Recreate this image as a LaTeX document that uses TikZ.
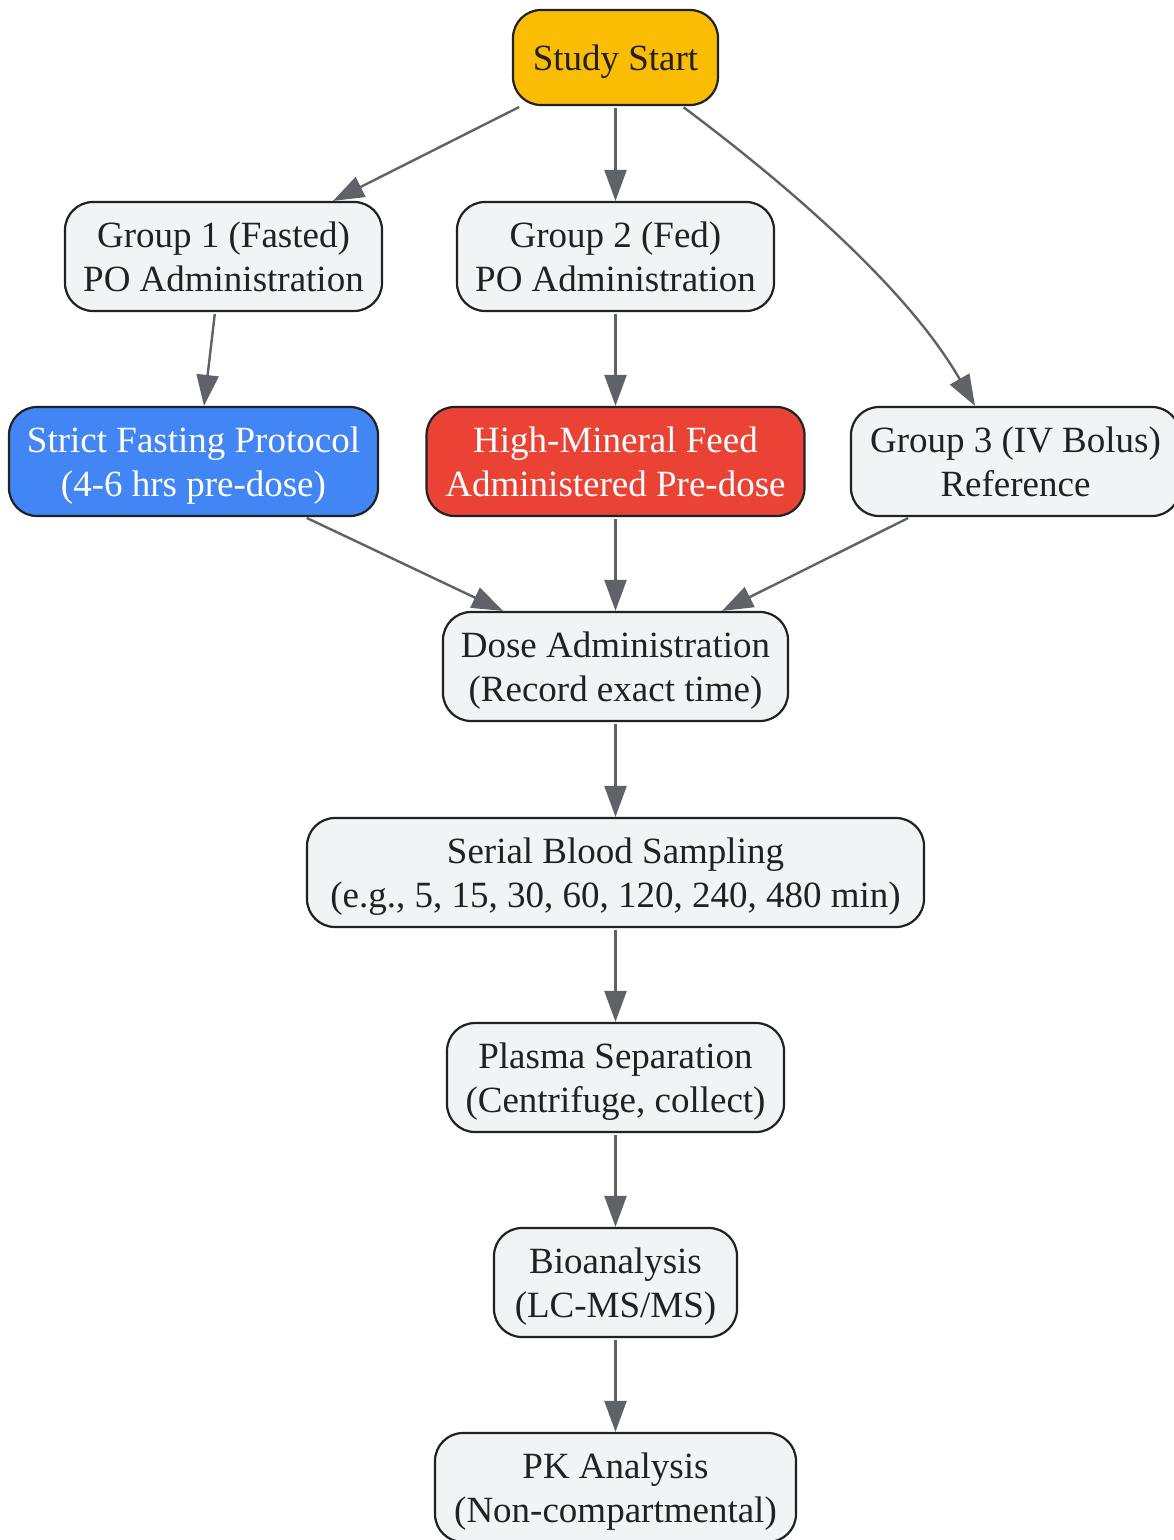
\documentclass[tikz,border=0pt]{standalone}
\usepackage{fontspec}
\setmainfont{Liberation Serif}
\usetikzlibrary{arrows.meta}
\definecolor{cyellow}{HTML}{FBBC04}
\definecolor{cblue}{HTML}{4285F4}
\definecolor{cred}{HTML}{EA4335}
\definecolor{cgray}{HTML}{F1F3F4}
\definecolor{cborder}{HTML}{202124}
\definecolor{cedge}{HTML}{5F6368}
\begin{document}
\begin{tikzpicture}[x=1pt,y=1pt,
  box/.style={draw=cborder, line width=2.2pt, rounded corners=28pt, fill=cgray,
    text=cborder, align=center, inner sep=0pt, minimum height=109pt, text depth=0pt,
    font=\fontsize{37}{44}\selectfont},
  conn/.style={draw=cedge, line width=2.4pt, shorten <=2pt,
    -{Triangle[length=31pt,width=22pt]}}]
\useasboundingbox (0,0) rectangle (1174,-1540);
\node[box, fill=cyellow, minimum width=205pt, minimum height=95pt] (start) at (615.5,-57.5) {Study Start};
\node[box, minimum width=317pt] (g1) at (223.5,-256.5) {Group 1 (Fasted)\\PO Administration};
\node[box, minimum width=317pt] (g2) at (615.5,-256.5) {Group 2 (Fed)\\PO Administration};
\node[box, fill=cblue, text=white, minimum width=369pt] (strict) at (193.5,-461.5) {Strict Fasting Protocol\\(4-6 hrs pre-dose)};
\node[box, fill=cred, text=white, minimum width=378pt] (high) at (615.5,-461.5) {High-Mineral Feed\\Administered Pre-dose};
\node[box, minimum width=329pt] (g3) at (1015.5,-461.5) {Group 3 (IV Bolus)\\Reference};
\node[box, minimum width=345pt] (dose) at (615.5,-666.5) {Dose Administration\\(Record exact time)};
\node[box, minimum width=617pt] (serial) at (615.5,-872.5) {Serial Blood Sampling\\(e.g., 5, 15, 30, 60, 120, 240, 480 min)};
\node[box, minimum width=337pt] (plasma) at (615.5,-1077.5) {Plasma Separation\\(Centrifuge, collect)};
\node[box, minimum width=243pt] (bio) at (615.5,-1282.5) {Bioanalysis\\(LC-MS/MS)};
\node[box, minimum width=361pt] (pk) at (615.5,-1487.5) {PK Analysis\\(Non-compartmental)};

\draw[conn] ([xshift=-94.5pt]start.south) -- ([xshift=109.5pt]g1.north);
\draw[conn] (start.south) -- (g2.north);
\draw[conn] ([xshift=66.5pt]start.south) .. controls ([xshift=140pt,yshift=-55pt]start.south) and ([xshift=-115pt,yshift=130pt]g3.north) .. ([xshift=-40.5pt]g3.north);
\draw[conn] ([xshift=-8.5pt]g1.south) -- ([xshift=10.5pt]strict.north);
\draw[conn] (g2.south) -- (g2.south |- high.north);
\draw[conn] ([xshift=111.5pt]strict.south) -- ([xshift=-112.5pt]dose.north);
\draw[conn] (dose.north |- high.south) -- (dose.north);
\draw[conn] ([xshift=-105.5pt]g3.south) -- ([xshift=106.5pt]dose.north);
\draw[conn] (dose.south) -- (serial.north);
\draw[conn] (serial.south) -- (plasma.north);
\draw[conn] (plasma.south) -- (bio.north);
\draw[conn] (bio.south) -- (pk.north);
\end{tikzpicture}
\end{document}
